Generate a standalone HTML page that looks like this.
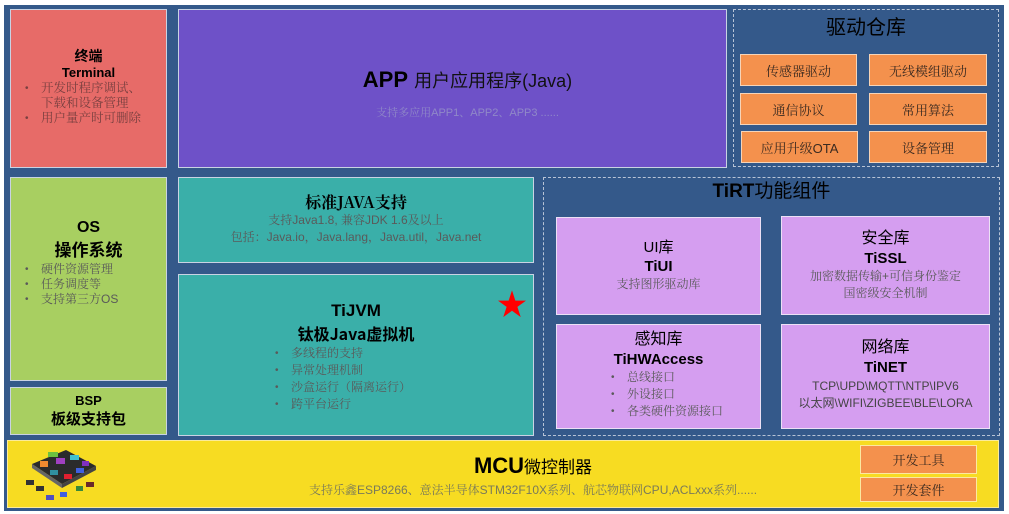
<!DOCTYPE html>
<html><head><meta charset="utf-8"><style>
body{margin:0;width:1009px;height:514px;background:#fff;position:relative;overflow:hidden;font-family:"Liberation Sans","Noto Sans CJK SC",sans-serif}
.a{position:absolute;box-sizing:border-box}
.bx{border:1px solid #c9d3e3;text-align:center}
.o{background:#f4914d;border:1px solid #f6d4b8;color:#3a2a20;font-size:13px;display:flex;align-items:center;justify-content:center;font-family:"Liberation Sans","Noto Serif CJK SC",serif}
.g{color:#5a5a5a;font-family:"Liberation Sans","Noto Serif CJK SC",serif}
.dash{border:1px dashed #b8c4d6}
ul{margin:0;padding-left:0;list-style:none;text-align:left}
li{position:relative;padding-left:22px;line-height:15px}
li:before{content:"•";position:absolute;left:6px;font-family:"Liberation Sans",sans-serif;font-size:10px}
.p{background:#d59ef0;border:1px solid #ece0f5}
</style></head><body>
<div class="a" style="left:4px;top:5px;width:1000px;height:506px;background:#34598a"></div>

<div class="a bx" style="left:10px;top:9px;width:157px;height:159px;background:#e76b68;padding-top:38px">
<div style="font-weight:bold;font-size:14px;line-height:17px;font-family:'Noto Sans CJK SC',sans-serif">终端</div>
<div style="font-weight:bold;font-size:13px;line-height:16px">Terminal</div>
<ul class="g" style="font-size:12.5px;color:#7a4040;margin-left:8px"><li>开发时程序调试、<br>下载和设备管理</li><li>用户量产时可删除</li></ul></div>

<div class="a bx" style="left:178px;top:9px;width:549px;height:159px;background:#6e51c8;padding-top:56px">
<div style="font-size:22px;line-height:28px;color:#000;padding-left:30px"><b>APP</b> <span style="font-size:18px;color:#111">用户应用程序(Java)</span></div>
<div class="g" style="font-size:11px;color:#9089c8;margin-top:9px;padding-left:30px">支持多应用APP1、APP2、APP3 ......</div></div>

<div class="a dash" style="left:733px;top:9px;width:266px;height:158px;text-align:center;font-size:20px;line-height:24px;padding-top:6px;color:#000">驱动仓库</div>
<div class="a o" style="left:740px;top:54px;width:117px;height:32px">传感器驱动</div>
<div class="a o" style="left:869px;top:54px;width:118px;height:32px">无线模组驱动</div>
<div class="a o" style="left:740px;top:93px;width:117px;height:32px">通信协议</div>
<div class="a o" style="left:869px;top:93px;width:118px;height:32px">常用算法</div>
<div class="a o" style="left:741px;top:131px;width:117px;height:32px">应用升级OTA</div>
<div class="a o" style="left:869px;top:131px;width:118px;height:32px">设备管理</div>

<div class="a bx" style="left:10px;top:177px;width:157px;height:204px;background:#a8cf61;padding-top:40px">
<div style="font-weight:bold;font-size:16px;line-height:20px">OS</div>
<div style="font-size:17px;line-height:22px;font-family:'Noto Sans CJK SC',sans-serif;font-weight:bold">操作系统</div>
<ul class="g" style="font-size:12px;margin-left:8px;margin-top:2px"><li>硬件资源管理</li><li>任务调度等</li><li>支持第三方OS</li></ul></div>
<div class="a bx" style="left:10px;top:387px;width:157px;height:48px;background:#a8cf61;padding-top:4px">
<div style="font-weight:bold;font-size:13px;line-height:17px">BSP</div>
<div style="font-size:15px;line-height:19px;font-weight:bold;font-family:'Noto Sans CJK SC',sans-serif">板级支持包</div></div>

<div class="a bx" style="left:178px;top:177px;width:356px;height:86px;background:#3aafa9;padding-top:14px">
<div style="font-size:16px;line-height:20px;font-weight:bold;font-family:'Noto Serif CJK SC',serif">标准JAVA支持</div>
<div class="g" style="font-size:12px;line-height:17px">支持Java1.8, 兼容JDK 1.6及以上</div>
<div class="g" style="font-size:12px;line-height:17px">包括：Java.io，Java.lang，Java.util，Java.net</div></div>

<div class="a bx" style="left:178px;top:274px;width:356px;height:162px;background:#3aafa9;padding-top:25px">
<div style="font-size:17px;line-height:22px;font-weight:bold">TiJVM</div>
<div style="font-size:16px;line-height:22px;font-weight:bold;font-family:'Noto Sans CJK SC',sans-serif">钛极Java虚拟机</div>
<ul class="g" style="font-size:12px;margin-left:90px;margin-top:1px;line-height:16px"><li style="line-height:17px">多线程的支持</li><li style="line-height:17px">异常处理机制</li><li style="line-height:17px">沙盒运行（隔离运行）</li><li style="line-height:17px">跨平台运行</li></ul>
<div style="position:absolute;left:318px;top:16px;color:#f00;font-size:30px;line-height:30px">★</div></div>

<div class="a dash" style="left:543px;top:177px;width:457px;height:259px;text-align:center;font-size:19px;line-height:24px;padding-top:2px;font-weight:bold">TiRT<span style="font-weight:normal">功能组件</span></div>
<div class="a p" style="left:556px;top:217px;width:205px;height:98px;text-align:center;padding-top:20px">
<div style="font-size:15px;line-height:19px">UI库</div><div style="font-size:15px;line-height:19px;font-weight:bold">TiUI</div><div class="g" style="font-size:12px;line-height:17px">支持图形驱动库</div></div>
<div class="a p" style="left:781px;top:216px;width:209px;height:99px;text-align:center;padding-top:12px">
<div style="font-size:16px;line-height:20px">安全库</div><div style="font-size:15px;line-height:19px;font-weight:bold">TiSSL</div><div class="g" style="font-size:12px;line-height:17px">加密数据传输+可信身份鉴定<br>国密级安全机制</div></div>
<div class="a p" style="left:556px;top:324px;width:205px;height:105px;text-align:center;padding-top:5px">
<div style="font-size:16px;line-height:20px">感知库</div><div style="font-size:15px;line-height:19px;font-weight:bold">TiHWAccess</div>
<ul class="g" style="font-size:12px;margin-left:48px"><li style="line-height:17px">总线接口</li><li style="line-height:17px">外设接口</li><li style="line-height:17px">各类硬件资源接口</li></ul></div>
<div class="a p" style="left:781px;top:324px;width:209px;height:105px;text-align:center;padding-top:13px">
<div style="font-size:16px;line-height:20px">网络库</div><div style="font-size:15px;line-height:20px;font-weight:bold">TiNET</div><div style="font-size:12px;line-height:17px;color:#444">TCP\UPD\MQTT\NTP\IPV6<br>以太网\WIFI\ZIGBEE\BLE\LORA</div></div>

<div class="a" style="left:7px;top:440px;width:992px;height:68px;background:#f7dc22;border:1px solid #fbeb9a;text-align:center;padding-top:12px">
<div style="font-size:22px;line-height:26px;padding-left:60px"><b>MCU</b><span style="font-size:17px">微控制器</span></div>
<div class="g" style="font-size:12px;line-height:18px;color:#7a7a5a;padding-left:60px">支持乐鑫ESP8266、意法半导体STM32F10X系列、航芯物联网CPU,ACLxxx系列......</div></div>
<div class="a o" style="left:860px;top:445px;width:117px;height:29px;border-color:#fce8a0">开发工具</div>
<div class="a o" style="left:860px;top:477px;width:117px;height:25px;border-color:#fce8a0">开发套件</div>
<svg class="a" style="left:20px;top:440px" width="85" height="65">
<polygon points="12,24 46,10 76,26 42,44" fill="#2b2b2b"/>
<polygon points="12,24 42,44 42,48 12,28" fill="#666"/>
<polygon points="42,44 76,26 76,30 42,48" fill="#444"/>
<rect x="20" y="21" width="8" height="6" fill="#f08a30"/><rect x="36" y="18" width="9" height="6" fill="#a040c0"/>
<rect x="28" y="12" width="10" height="5" fill="#6cc040"/><rect x="50" y="15" width="9" height="5" fill="#40c0d0"/>
<rect x="44" y="34" width="8" height="5" fill="#e02030"/><rect x="56" y="28" width="8" height="5" fill="#4060e0"/>
<rect x="30" y="30" width="8" height="5" fill="#3090a0"/><rect x="62" y="21" width="7" height="5" fill="#8030c0"/>
<rect x="6" y="40" width="8" height="5" fill="#333"/><rect x="16" y="46" width="8" height="5" fill="#333"/>
<rect x="26" y="55" width="8" height="5" fill="#5050c0"/><rect x="40" y="52" width="7" height="5" fill="#4060e0"/>
<rect x="66" y="42" width="8" height="5" fill="#6a2a2a"/><rect x="56" y="46" width="7" height="5" fill="#3a8a3a"/>
</svg>
</body></html>
